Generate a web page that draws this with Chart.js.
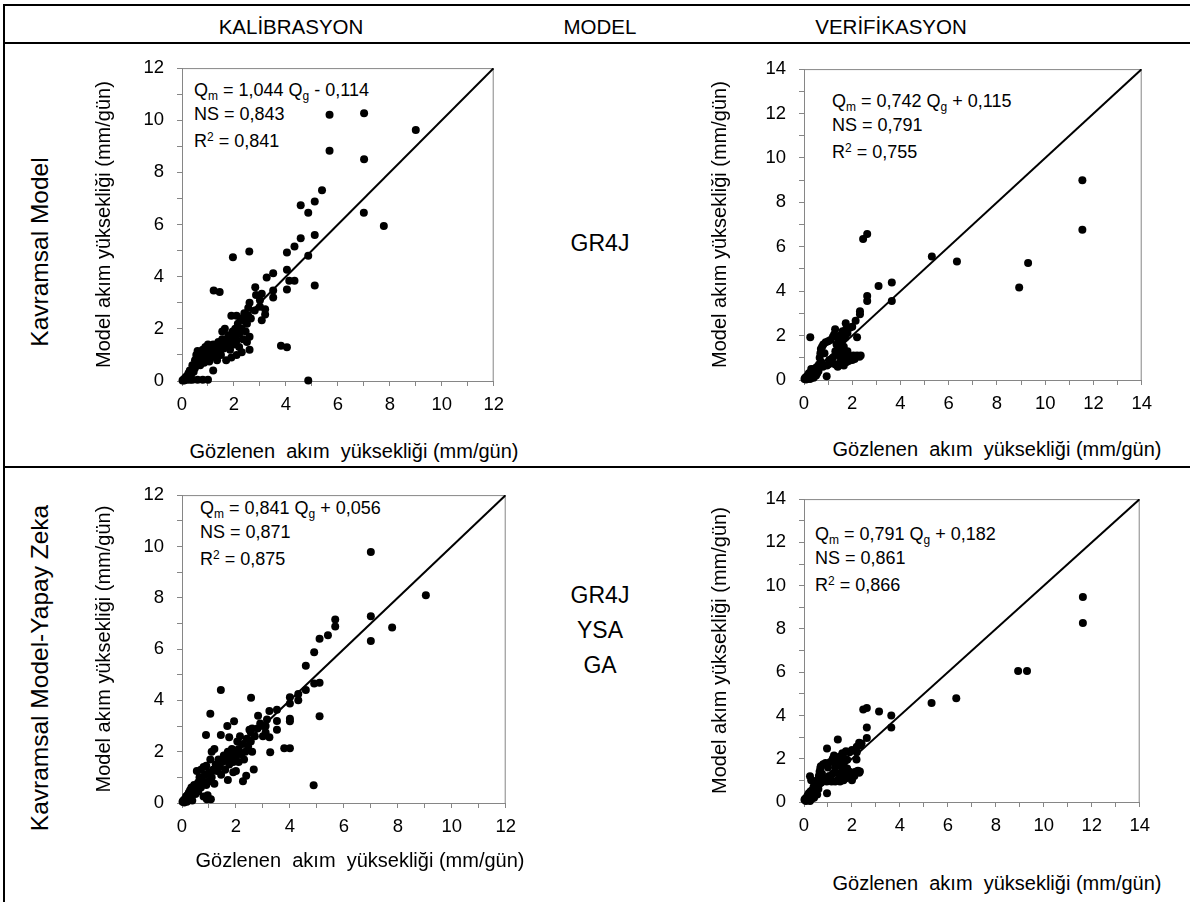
<!DOCTYPE html>
<html>
<head>
<meta charset="utf-8">
<script src="https://cdn.jsdelivr.net/npm/chart.js@4.4.1/dist/chart.umd.min.js"></script>
<style>
  body { margin: 0; width: 1190px; height: 902px; background: #fff; position: relative; overflow: hidden;
         font-family: "Liberation Sans", Arial, sans-serif; color: #000; }
  .hline { position: absolute; left: 3px; right: 0; height: 2px; background: #000; }
  .vline { position: absolute; width: 2px; background: #000; }
  .head { position: absolute; top: 15px; font-size: 20.5px; transform: translateX(-50%); white-space: nowrap; }
  .rowlab { position: absolute; font-size: 24.5px; white-space: nowrap; transform: translate(-50%, -50%) rotate(-90deg); }
  .mid { position: absolute; font-size: 23px; text-align: center; width: 120px; line-height: 35px; }
  .xt { position: absolute; font-size: 20px; white-space: pre; transform: translate(-50%, -50%); }
  .stats { position: absolute; font-size: 18px; white-space: nowrap; }
  .stats div { height: 23.5px; line-height: 23.5px; }
  .stats sub { font-size: 12px; vertical-align: -4px; }
  .stats sup { font-size: 12px; vertical-align: 6px; }
  canvas { position: absolute; }
</style>
</head>
<body>

<div class="hline" style="top:4px"></div>
<div class="hline" style="top:42px"></div>
<div class="hline" style="top:466px"></div>
<div class="vline" style="left:3px; top:4px; height:898px"></div>

<div class="head" style="left:291px">KALİBRASYON</div>
<div class="head" style="left:600px">MODEL</div>
<div class="head" style="left:891px">VERİFİKASYON</div>

<div class="rowlab" style="left:40px; top:252px">Kavramsal Model</div>
<div class="rowlab" style="left:40px; top:668px">Kavramsal Model-Yapay Zeka</div>

<div class="mid" style="left:540px; top:226px">GR4J</div>
<div class="mid" style="left:540px; top:578px">GR4J<br>YSA<br>GA</div>

<div class="stats" style="left:194px; top:79px">
  <div>Q<sub>m</sub> = 1,044 Q<sub>g</sub> - 0,114</div><div>NS = 0,843</div><div>R<sup>2</sup> = 0,841</div>
</div>
<div class="stats" style="left:832px; top:90px">
  <div>Q<sub>m</sub> = 0,742 Q<sub>g</sub> + 0,115</div><div>NS = 0,791</div><div>R<sup>2</sup> = 0,755</div>
</div>
<div class="stats" style="left:200px; top:497px">
  <div>Q<sub>m</sub> = 0,841 Q<sub>g</sub> + 0,056</div><div>NS = 0,871</div><div>R<sup>2</sup> = 0,875</div>
</div>
<div class="stats" style="left:815px; top:523px">
  <div>Q<sub>m</sub> = 0,791 Q<sub>g</sub> + 0,182</div><div>NS = 0,861</div><div>R<sup>2</sup> = 0,866</div>
</div>

<script>
// observed (x) vs model (y) pairs, mm/gün
const kalibrasyonGr4j = [
  [0.02,0.02],[0.05,0.05],[0.08,0.02],[0.1,0.1],[0.12,0.05],[0.15,0.15],[0.18,0.05],[0.2,0.2],[0.22,0.1],[0.25,0.3],
  [0.3,0.05],[0.3,0.4],[0.35,0.25],[0.4,0.05],[0.4,0.6],[0.45,0.35],[0.5,0.8],[0.5,0.5],[0.55,1.0],[0.6,0.05],
  [0.6,0.7],[0.6,1.15],[0.65,0.9],[0.7,0.6],[0.7,1.1],[0.75,0.8],[0.8,1.2],[0.8,0.05],[0.85,0.7],[0.9,1.0],
  [0.9,1.3],[0.95,0.85],[1.0,1.4],[1.0,0.05],[1.05,1.1],[1.05,0.75],[1.1,1.3],[1.1,0.9],[1.15,1.0],[1.2,1.4],
  [1.2,0.4],[1.25,1.2],[1.3,0.95],[1.35,1.3],[1.4,1.5],[1.45,1.1],[1.5,1.35],[1.5,1.0],[1.55,1.6],[1.6,1.25],
  [1.65,1.45],[1.7,1.6],[1.7,0.8],[1.75,1.3],[1.8,1.5],[1.8,1.75],[1.85,1.2],[1.9,1.6],[1.9,0.9],[1.95,1.9],
  [2.0,1.4],[2.0,1.7],[2.05,2.0],[2.1,1.55],[2.1,1.0],[2.15,2.2],[2.2,1.8],[2.2,1.3],[2.25,2.4],[2.3,2.0],
  [2.3,1.1],[2.35,1.6],[2.4,2.3],[2.4,2.6],[2.45,1.9],[2.5,2.2],[2.5,1.5],[2.55,2.5],[2.55,2.8],[2.6,1.2],
  [2.6,1.7],[2.6,3.0],[2.65,2.4],[1.65,2.0],[1.9,2.5],[1.55,1.9],[2.1,2.5],[1.35,0.8],[2.8,2.7],[2.85,3.3],
  [3.0,3.1],[3.2,2.55],[3.2,2.75],[3.0,2.85],
  [5.68,10.21],[7.01,10.27],[9.0,9.63],[5.68,8.83],[7.01,8.5],[5.39,7.32],[5.11,6.88],[4.57,6.74],[4.86,6.45],[7.0,6.45],
  [7.77,5.94],[4.57,5.47],[5.11,5.6],[4.33,5.16],[4.04,4.93],[4.86,4.8],[1.96,4.75],[2.59,4.97],[4.04,4.27],[4.13,3.84],
  [4.33,3.84],[4.04,3.51],[5.11,3.66],[3.26,3.97],[3.51,4.13],[3.51,3.47],[3.51,3.2],[1.22,3.47],[1.45,3.41],[2.82,3.6],
  [3.07,3.35],[3.07,2.33],[3.81,1.35],[4.04,1.29],[4.86,0.02]
];

const verifikasyonGr4j = [
  [0.02,0.05],[0.05,0.1],[0.08,0.02],[0.1,0.15],[0.12,0.05],[0.15,0.2],[0.18,0.08],[0.2,0.3],[0.22,0.12],[0.25,0.05],
  [0.28,0.35],[0.3,0.2],[0.32,0.1],[0.35,0.45],[0.38,0.25],[0.4,0.1],[0.42,0.5],[0.45,0.35],[0.5,0.55],[0.5,0.2],
  [0.55,0.6],[0.6,0.4],[0.62,0.7],[0.65,1.0],[0.68,1.2],[0.7,1.4],[0.72,0.8],[0.75,1.5],[0.78,0.6],[0.8,1.6],
  [0.85,1.2],[0.9,1.7],[0.95,0.65],[1.0,1.75],[1.0,0.7],[1.05,0.9],[1.1,1.8],[1.15,0.75],[1.2,1.95],[1.2,1.0],
  [1.25,2.05],[1.3,0.7],[1.3,1.3],[1.35,1.6],[1.4,0.6],[1.4,1.9],[1.45,1.1],[1.5,0.7],[1.5,1.4],[1.5,2.0],
  [1.55,0.9],[1.55,1.7],[1.6,1.2],[1.6,2.2],[1.65,0.65],[1.65,1.5],[1.7,1.0],[1.7,1.9],[1.75,0.8],[1.75,2.3],
  [1.8,1.3],[1.85,0.85],[1.9,1.0],[1.9,2.35],[1.95,1.05],[2.0,0.9],[2.0,2.4],[2.05,1.1],[2.1,0.95],[2.15,1.05],
  [2.2,1.1],[2.3,1.05],[2.35,1.1],[1.5,0.8],[1.7,2.0],[1.8,2.1],[1.1,0.8],[0.55,0.3],[0.3,0.5],
  [11.54,8.99],[11.54,6.77],[8.92,4.16],[9.29,5.27],[6.34,5.34],[5.3,5.56],[3.64,4.39],[3.64,3.56],[3.09,4.23],[2.45,6.35],
  [2.62,6.57],[2.62,3.78],[2.62,3.56],[2.32,3.1],[2.32,2.96],[2.14,2.67],[1.73,2.55],[0.26,1.92],[0.94,0.17],[2.2,1.92],
  [1.29,2.28]
];

const kalibrasyonHibrit = [
  [0.02,0.05],[0.05,0.1],[0.08,0.02],[0.1,0.15],[0.12,0.08],[0.15,0.25],[0.18,0.05],[0.2,0.3],[0.22,0.15],[0.25,0.4],
  [0.28,0.2],[0.3,0.5],[0.32,0.3],[0.35,0.6],[0.38,0.1],[0.4,0.45],[0.45,0.7],[0.5,0.35],[0.5,0.55],[0.55,1.25],
  [0.6,0.8],[0.6,0.45],[0.65,1.0],[0.7,0.6],[0.7,1.3],[0.75,0.9],[0.8,1.4],[0.8,0.25],[0.85,1.1],[0.9,0.7],
  [0.9,1.45],[0.95,0.3],[1.0,1.2],[1.0,0.85],[1.05,1.7],[1.1,1.0],[1.1,2.0],[1.15,1.3],[1.2,2.1],[1.2,0.75],
  [1.25,1.5],[1.3,1.25],[1.35,1.7],[1.4,1.4],[1.45,1.1],[1.5,1.6],[1.55,1.85],[1.6,1.3],[1.65,1.7],[1.7,0.9],
  [1.7,2.0],[1.75,1.5],[1.8,1.8],[1.85,2.1],[1.9,1.2],[1.9,1.6],[1.95,2.0],[2.0,1.25],[2.0,1.8],[2.05,2.4],
  [2.1,1.6],[2.1,2.1],[2.15,2.6],[2.2,1.9],[2.25,2.3],[2.3,1.7],[2.35,2.0],[2.4,2.5],[2.45,2.2],[2.5,2.85],
  [2.55,2.4],[2.6,2.0],[2.7,2.6],[2.8,2.9],[2.9,3.1],[3.0,2.6],[3.1,3.0],[3.15,3.25],[3.0,3.0],[3.1,2.75],
  [2.6,2.9],[2.55,2.75],
  [7.0,9.78],[9.04,8.1],[7.0,7.28],[7.0,6.31],[7.79,6.84],[5.68,7.15],[5.68,6.88],[5.41,6.54],[5.1,6.4],[4.9,5.88],
  [4.59,5.35],[4.9,4.66],[5.1,4.69],[4.59,4.4],[4.31,4.0],[4.31,4.25],[4.0,4.12],[4.0,3.88],[4.0,3.28],[4.0,3.19],
  [5.1,3.38],[4.88,0.69],[3.79,2.13],[4.0,2.13],[1.44,4.4],[2.56,4.1],[1.05,3.48],[3.24,3.59],[3.52,3.63],[3.52,3.2],
  [3.52,2.85],[3.24,2.56],[3.27,1.98],[2.82,3.4],[1.93,3.19],[1.68,3.0],[1.75,2.56],[0.89,2.65],[1.44,2.65],[2.66,1.31],
  [2.26,0.85],[2.38,1.06],[1.07,0.15],[0.92,0.15]
];

const verifikasyonHibrit = [
  [0.02,0.1],[0.05,0.15],[0.08,0.05],[0.1,0.2],[0.12,0.1],[0.15,0.3],[0.18,0.12],[0.2,0.4],[0.22,0.15],[0.25,0.05],
  [0.28,0.5],[0.3,0.25],[0.3,1.0],[0.32,0.15],[0.35,0.55],[0.38,0.35],[0.4,0.7],[0.42,0.2],[0.45,0.6],[0.5,0.8],
  [0.5,0.35],[0.55,1.0],[0.6,0.6],[0.62,1.2],[0.65,1.4],[0.68,1.55],[0.7,1.65],[0.72,0.9],[0.75,1.3],[0.8,1.75],
  [0.85,1.1],[0.9,1.8],[0.95,0.95],[1.0,1.6],[1.0,1.05],[1.05,1.2],[1.1,1.85],[1.15,0.95],[1.2,2.0],[1.2,1.3],
  [1.25,2.15],[1.3,0.95],[1.3,1.6],[1.35,1.8],[1.4,1.0],[1.4,2.0],[1.45,1.3],[1.5,0.95],[1.5,1.7],[1.5,2.1],
  [1.55,1.2],[1.55,1.9],[1.6,1.45],[1.6,2.25],[1.65,1.0],[1.65,1.75],[1.7,1.3],[1.7,2.0],[1.75,1.1],[1.75,2.35],
  [1.8,1.55],[1.85,1.2],[1.9,1.4],[1.9,2.3],[1.95,1.3],[2.0,1.0],[2.0,2.4],[2.05,1.35],[2.1,1.2],[2.15,1.4],
  [2.2,2.3],[2.25,1.45],[2.3,1.35],[2.35,2.6],[2.4,2.7],[1.6,1.0],[1.8,1.95],[1.1,1.1],[0.55,0.35],[0.6,1.0],
  [11.63,9.47],[11.63,8.27],[8.93,6.06],[9.3,6.06],[6.35,4.8],[5.32,4.58],[3.64,4.0],[3.64,3.44],[3.13,4.18],[2.47,4.28],
  [2.62,4.34],[2.62,3.44],[2.62,2.96],[2.3,2.74],[2.2,2.55],[1.41,2.89],[0.96,2.47],[0.96,0.4],[0.25,1.19],[2.19,1.97],
  [2.33,1.41]
];

const axisMax = [12, 14, 12, 14];
const xTitle = "Gözlenen  akım  yüksekliği (mm/gün)";
const yTitle = "Model akım yüksekliği (mm/gün)";

// page placement of each plot area (left, right, top, bottom) and its axis titles
const panels = [
  { data: kalibrasyonGr4j,    max: axisMax[0], L: 182, R: 498,  T: 56,  B: 381, xTitleX: 354, xTitleY: 451, yTitleX: 104 },
  { data: verifikasyonGr4j,   max: axisMax[1], L: 804, R: 1146, T: 57,  B: 380, xTitleX: 997, xTitleY: 449, yTitleX: 720 },
  { data: kalibrasyonHibrit,  max: axisMax[2], L: 182, R: 510,  T: 483, B: 803, xTitleX: 360, xTitleY: 860, yTitleX: 104 },
  { data: verifikasyonHibrit, max: axisMax[3], L: 804, R: 1144, T: 487, B: 802, xTitleX: 997, xTitleY: 883, yTitleX: 720 }
];

const FONT = "'Liberation Sans', Arial, sans-serif";
const GRAY = "#868686";

const frame = {
  id: "frame",
  beforeDatasetsDraw(chart) {
    const a = chart.chartArea, c = chart.ctx;
    c.save();
    c.strokeStyle = GRAY;
    c.lineWidth = 1;
    c.beginPath();
    c.moveTo(a.left, a.top + 0.5);
    c.lineTo(a.right - 0.5, a.top + 0.5);
    c.lineTo(a.right - 0.5, a.bottom);
    c.stroke();
    c.restore();
  }
};

function axisOpts(max, fitFn, pad, title) {
  return {
    type: "linear", min: 0, max: max,
    afterFit: fitFn,
    grid: { display: true, drawOnChartArea: false, drawTicks: true, tickLength: 5, color: GRAY, lineWidth: 1 },
    border: { display: true, color: GRAY, width: 1 },
    ticks: {
      stepSize: 1, autoSkip: false, maxRotation: 0, padding: pad, color: "#000",
      font: { family: FONT, size: 18.5 },
      callback: (v) => (v % 2 === 0 ? String(v) : "")
    },
    title: title
      ? { display: true, text: title, color: "#000", padding: 0, font: { family: FONT, size: 20 } }
      : { display: false }
  };
}

panels.forEach((p) => {
  const padTop = 12, padRight = 14, half = 12;
  const left = Math.round(p.yTitleX - half);
  const top = p.T - padTop;
  const w = p.R + padRight - left;
  const h = p.B + 48 - top;
  const yW = p.L - left;
  const xH = 48;

  const cv = document.createElement("canvas");
  cv.width = w; cv.height = h;
  cv.style.left = left + "px"; cv.style.top = top + "px";
  cv.style.width = w + "px"; cv.style.height = h + "px";
  document.body.appendChild(cv);

  const xt = document.createElement("div");
  xt.className = "xt";
  xt.textContent = xTitle;
  xt.style.left = p.xTitleX + "px";
  xt.style.top = p.xTitleY + "px";
  document.body.appendChild(xt);

  new Chart(cv, {
    type: "scatter",
    data: {
      datasets: [
        {
          data: p.data.map((d) => ({ x: d[0], y: d[1] })),
          pointRadius: 4, pointHoverRadius: 4, backgroundColor: "#000", borderWidth: 0, clip: false
        },
        {
          type: "line",
          data: [{ x: 0, y: 0 }, { x: p.max, y: p.max }],
          borderColor: "#000", borderWidth: 2, pointRadius: 0, fill: false
        }
      ]
    },
    options: {
      responsive: false, animation: false, devicePixelRatio: 1,
      layout: { padding: { top: padTop, right: padRight, left: 0, bottom: 0 } },
      plugins: { legend: { display: false }, tooltip: { enabled: false } },
      scales: {
        x: axisOpts(p.max, (s) => { s.height = xH; }, 8, null),
        y: axisOpts(p.max, (s) => { s.width = yW; }, 13, yTitle)
      }
    },
    plugins: [frame]
  });
});
</script>
</body>
</html>
